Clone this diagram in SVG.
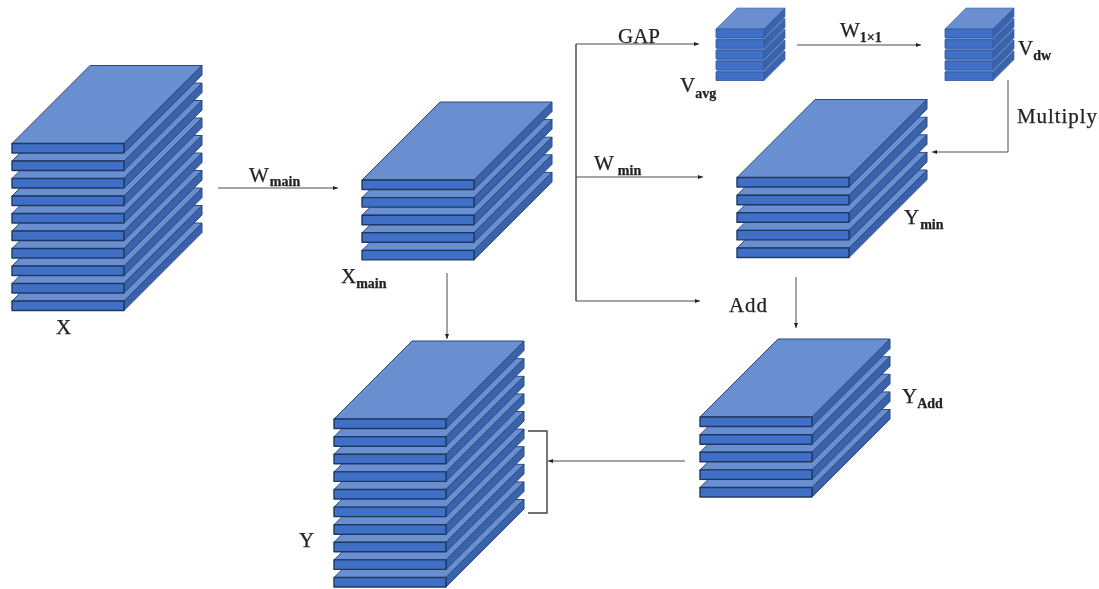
<svg xmlns="http://www.w3.org/2000/svg" xmlns:xlink="http://www.w3.org/1999/xlink" width="1099" height="589" viewBox="0 0 1099 589">
<style>
.t{fill:#6a8fd1;stroke:#2b4a80;stroke-width:1;stroke-linejoin:round}
.f{fill:#4070c6;stroke:#1f3864;stroke-width:1.4;stroke-linejoin:round}
.s{fill:#3a64ab;stroke:#2b4a80;stroke-width:1;stroke-linejoin:round}
.st{fill:#6a8fd1;stroke:#3a64ab;stroke-width:.6;stroke-linejoin:round}
.sf{fill:#4070c6;stroke:#2f5597;stroke-width:.8;stroke-linejoin:round}
.ss{fill:#3a64ab;stroke:#335a9c;stroke-width:.6;stroke-linejoin:round}
.c{fill:none;stroke:#4a4a4a;stroke-width:1}
.b{fill:none;stroke:#404040;stroke-width:1.4}
text{font-family:"Liberation Serif","Times New Roman",serif;font-size:21px;fill:#222;stroke:#222;stroke-width:.25}
.sub{font-size:14px;font-weight:bold}
</style>
<defs>
<filter id="soft" x="-2%" y="-2%" width="104%" height="104%"><feGaussianBlur stdDeviation="0.5"/></filter>
<marker id="a" markerWidth="6" markerHeight="6" refX="5" refY="2.5" orient="auto" markerUnits="userSpaceOnUse"><path d="M0 0.5L5 2.5L0 4.5Z" fill="#222"/></marker>
<g id="big"><path class="t" d="M0 78L78 0H190L112 78Z"/><path class="s" d="M112 78L190 0V9.5L112 87.5Z"/><rect class="f" x="0" y="78" width="112" height="9.5"/></g>
<g id="small"><path class="st" d="M0 21L21 0H69L48 21Z"/><path class="ss" d="M48 21L69 0V8.5L48 29.5Z"/><rect class="sf" x="0" y="21" width="48" height="8.5"/></g>
</defs>
<g filter="url(#soft)">
<g id="connectors">
<path class="c" marker-end="url(#a)" d="M218 188H338"/>
<path class="c" marker-end="url(#a)" d="M447 273V339"/>
<path class="b" d="M576 44V301"/>
<path class="c" marker-end="url(#a)" d="M576 44H699"/>
<path class="c" marker-end="url(#a)" d="M576 177H703"/>
<path class="c" marker-end="url(#a)" d="M576 301H700"/>
<path class="c" marker-end="url(#a)" d="M797 45H921"/>
<path class="c" marker-end="url(#a)" d="M1008 80V152H932"/>
<path class="c" marker-end="url(#a)" d="M796 277V328"/>
<path class="b" d="M528 431H547V513H528"/>
<path class="c" marker-end="url(#a)" d="M685 461H548"/>
</g>
<g id="node-x">
<use href="#big" x="12" y="223"/><use href="#big" x="12" y="205.5"/><use href="#big" x="12" y="188"/><use href="#big" x="12" y="170.5"/><use href="#big" x="12" y="153"/><use href="#big" x="12" y="135.5"/><use href="#big" x="12" y="118"/><use href="#big" x="12" y="100.5"/><use href="#big" x="12" y="83"/><use href="#big" x="12" y="65.5"/>
<text x="56" y="334">X</text>
</g>
<g id="node-xmain">
<use href="#big" x="362" y="172.4"/><use href="#big" x="362" y="154.8"/><use href="#big" x="362" y="137.2"/><use href="#big" x="362" y="119.6"/><use href="#big" x="362" y="102"/>
<text x="341" y="283">X<tspan class="sub" dy="5">main</tspan></text>
</g>
<g id="node-y">
<use href="#big" x="334" y="499.5"/><use href="#big" x="334" y="481.9"/><use href="#big" x="334" y="464.3"/><use href="#big" x="334" y="446.7"/><use href="#big" x="334" y="429.1"/><use href="#big" x="334" y="411.5"/><use href="#big" x="334" y="393.9"/><use href="#big" x="334" y="376.3"/><use href="#big" x="334" y="358.7"/><use href="#big" x="334" y="341"/>
<text x="299" y="547">Y</text>
</g>
<g id="node-vavg">
<use href="#small" x="716" y="51"/><use href="#small" x="716" y="40.2"/><use href="#small" x="716" y="29.4"/><use href="#small" x="716" y="18.7"/><use href="#small" x="716" y="8"/>
<text x="680" y="92">V<tspan class="sub" dy="6">avg</tspan></text>
</g>
<g id="node-vdw">
<use href="#small" x="945" y="51"/><use href="#small" x="945" y="40.2"/><use href="#small" x="945" y="29.4"/><use href="#small" x="945" y="18.7"/><use href="#small" x="945" y="8"/>
<text x="1018" y="55">V<tspan class="sub" dy="5">dw</tspan></text>
</g>
<g id="node-ymin">
<use href="#big" x="737" y="170"/><use href="#big" x="737" y="152.4"/><use href="#big" x="737" y="134.8"/><use href="#big" x="737" y="117.2"/><use href="#big" x="737" y="99.5"/>
<text x="904" y="224">Y<tspan class="sub" dx="1" dy="5">min</tspan></text>
</g>
<g id="node-yadd">
<use href="#big" x="700" y="409.5"/><use href="#big" x="700" y="391.9"/><use href="#big" x="700" y="374.3"/><use href="#big" x="700" y="356.7"/><use href="#big" x="700" y="339"/>
<text x="902" y="403">Y<tspan class="sub" dy="5">Add</tspan></text>
</g>
<g id="labels">
<text x="249" y="182">W<tspan class="sub" dx="1" dy="4">main</tspan></text>
<text x="618" y="43">GAP</text>
<text x="594" y="170">W<tspan class="sub" dx="4" dy="5">min</tspan></text>
<text x="840" y="37">W<tspan class="sub" dy="5">1×1</tspan></text>
<text x="1017" y="123" textLength="80">Multiply</text>
<text x="729" y="312" textLength="38">Add</text>
</g>
</g>
</svg>
